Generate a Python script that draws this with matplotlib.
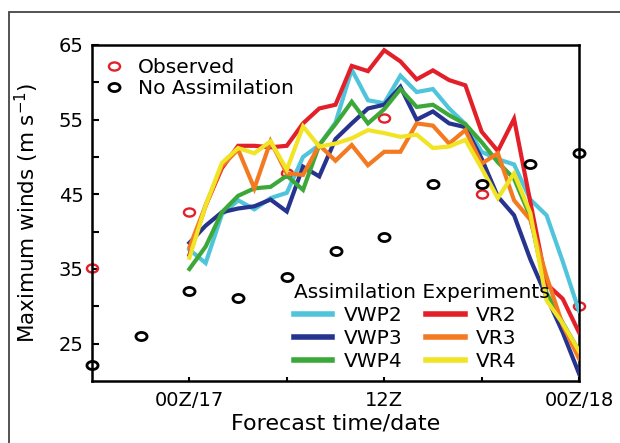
import matplotlib
matplotlib.use("Agg")
import matplotlib.pyplot as plt
from matplotlib.patches import Rectangle
from matplotlib.lines import Line2D
from matplotlib.path import Path

plt.rcParams["font.family"] = ["DejaVu Sans"]

# forecast hours counted from 18Z/16
obs_hours = [0, 6, 12, 18, 24, 30]
observed = [35.1, 42.7, 47.8, 55.2, 45.1, 30.1]

noda_hours = [0, 3, 6, 9, 12, 15, 18, 21, 24, 27, 30]
no_assim = [22.2, 26.0, 32.0, 31.1, 33.9, 37.4, 39.3, 46.4, 46.4, 49.0, 50.6]

exp_hours = list(range(6, 31))
vwp2 = [37.6, 35.8, 42.3, 44.2, 43.0, 44.5, 45.2, 50.0, 51.6, 54.6, 61.7, 57.6, 57.2,
        60.9, 58.7, 59.1, 56.5, 54.4, 50.7, 49.7, 49.0, 44.3, 42.2, 36.0, 29.4]
vwp3 = [38.5, 40.8, 42.6, 43.1, 43.4, 44.3, 42.7, 48.7, 47.4, 52.4, 54.5, 56.5, 57.0,
        59.4, 55.0, 56.1, 54.5, 54.0, 49.8, 44.7, 42.2, 36.3, 31.3, 26.5, 21.0]
vwp4 = [35.0, 38.0, 42.6, 44.8, 45.8, 46.0, 47.5, 45.6, 51.6, 54.4, 57.4, 54.5, 56.4,
        59.1, 56.7, 57.0, 55.6, 54.4, 52.0, 49.3, 47.1, 42.0, 31.8, 27.8, 24.0]
vr2 = [36.9, 43.5, 48.5, 51.5, 51.5, 51.3, 51.5, 54.5, 56.5, 57.0, 62.2, 61.5, 64.3,
       62.8, 60.4, 61.6, 60.3, 59.6, 53.4, 50.8, 55.1, 44.0, 33.0, 31.0, 26.5]
vr3 = [37.9, 43.5, 48.8, 51.0, 45.8, 52.1, 47.8, 47.6, 51.6, 49.5, 51.6, 48.9, 50.7,
       50.7, 54.5, 54.2, 51.8, 53.6, 49.1, 50.5, 44.2, 41.6, 34.0, 27.5, 23.0]
vr4 = [36.5, 43.5, 49.2, 51.2, 50.5, 52.1, 48.3, 54.1, 51.4, 51.8, 52.5, 53.6, 53.2,
       52.7, 53.0, 51.2, 51.4, 52.3, 48.5, 44.5, 47.8, 42.5, 30.8, 27.7, 24.0]

series = [
    ("VWP2", vwp2, "#4fc4da"),
    ("VWP3", vwp3, "#27348f"),
    ("VWP4", vwp4, "#3da83a"),
    ("VR2", vr2, "#e3202a"),
    ("VR3", vr3, "#f47a22"),
    ("VR4", vr4, "#f0e424"),
]

xtick_pos = [6, 18, 30]
xtick_labels = ["00Z/17", "12Z", "00Z/18"]
ytick_pos = [25, 35, 45, 55, 65]

# the source figure is stretched sideways, so circles come out as flat ellipses
circ = Path.unit_circle()
oval = Path(circ.vertices * [1.0, 0.73], circ.codes)

fig = plt.figure(figsize=(6.2, 4.43), dpi=100)
fig.patches.append(Rectangle((9 / 620, -0.1), 1.2, (443 - 12) / 443 + 0.1,
                             transform=fig.transFigure, fill=False,
                             edgecolor="#444444", lw=1.3))
ax = fig.add_axes([92 / 620, 62 / 443, 487 / 620, 336 / 443])

for name, vals, col in series:
    ax.plot(exp_hours, vals, color=col, lw=3.0, label=name, zorder=3,
            solid_joinstyle="miter")

ax.plot(obs_hours, observed, ls="none", marker=oval, mfc="none", mec="#e3202a",
        mew=1.7, ms=8, clip_on=False, zorder=2)
ax.plot(noda_hours, no_assim, ls="none", marker=oval, mfc="none", mec="black",
        mew=2.0, ms=8, clip_on=False, zorder=4)

ax.set_xlim(0, 30)
ax.set_ylim(20, 65)
ax.set_xticks(xtick_pos)
ax.set_xticklabels(xtick_labels)
ax.set_xticks([12, 24], minor=True)
ax.set_yticks(ytick_pos)
ax.set_yticks([30, 40, 50, 60], minor=True)
ax.tick_params(which="both", direction="in", labelsize=14, width=1.5, color="black")
ax.tick_params(axis="y", which="both", length=5, pad=6)
ax.tick_params(axis="x", which="both", length=3, pad=7)
for sp in ax.spines.values():
    sp.set_linewidth(1.8)

ax.set_xlabel("Forecast time/date", fontsize=16)
ax.set_ylabel("Maximum winds (m s$^{-1}$)", fontsize=15.5)
ax.xaxis.set_label_coords(0.5, -0.098)
ax.yaxis.set_label_coords(-0.105, 0.5)

h = [Line2D([], [], ls="none", marker=oval, mfc="none", mec="#e3202a", mew=1.7, ms=8),
     Line2D([], [], ls="none", marker=oval, mfc="none", mec="black", mew=2.0, ms=8)]
leg1 = ax.legend(h, ["Observed", "No Assimilation"], loc="upper left",
                 bbox_to_anchor=(0.0246, 0.96), frameon=False, fontsize=14.5,
                 handlelength=1.0, handletextpad=0.7, labelspacing=0.1,
                 borderpad=0, borderaxespad=0)
ax.add_artist(leg1)

leg2 = ax.legend(loc="upper left", bbox_to_anchor=(0.415, 0.293), ncol=2, frameon=False,
                 title="Assimilation Experiments", title_fontsize=14.5, fontsize=14.5,
                 handlelength=1.9, handletextpad=0.55, columnspacing=1.2,
                 labelspacing=0.2, borderpad=0, borderaxespad=0, alignment="left")
for ln in leg2.get_lines():
    ln.set_linewidth(4)

fig.savefig("out.png", dpi=100)
